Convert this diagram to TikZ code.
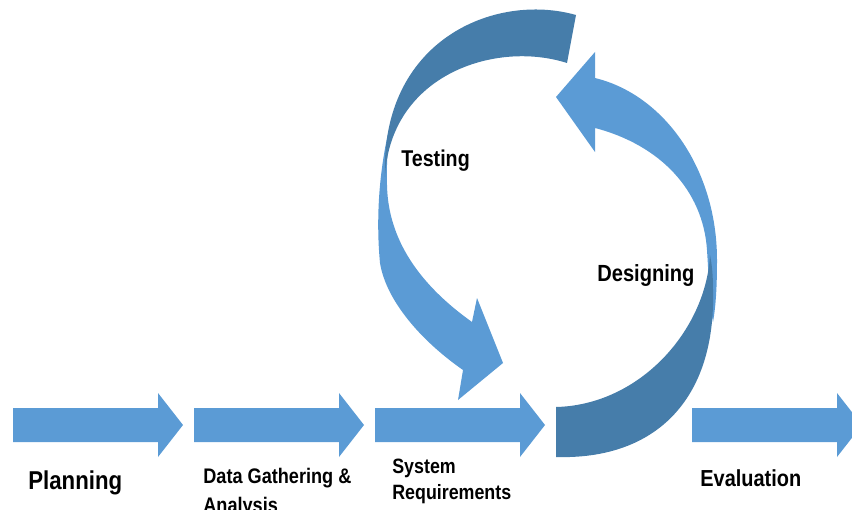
\documentclass[tikz,border=0pt]{standalone}
\usepackage{fontspec}
\setmainfont{Liberation Sans}[FakeStretch=0.86]
\usepackage{tikz}
\definecolor{flowblue}{RGB}{91,155,213}
\definecolor{backblue}{RGB}{70,125,170}
\tikzstyle{flow} = [fill=flowblue]
\tikzstyle{back} = [fill=backblue]
\tikzstyle{stage} = [inner sep=0pt, anchor=base west]

\begin{document}
\begin{tikzpicture}[x=0.02cm, y=-0.02cm]
\useasboundingbox (0,0) rectangle (852,510);
% straight arrows
\foreach \x/\n in {13/plan, 194/data, 375/sysreq, 692/eval}
  \fill[flow] (\x,408) coordinate (\n) -- ++(145,0) -- ++(0,-15) -- ++(25,32) -- ++(-25,32) -- ++(0,-15) -- ++(-145,0) -- cycle;
% designing arrow
\fill[flow] (556,97) -- (595,52) -- (595,78) .. controls (665,95) and (717,170) .. (717,260) .. controls (717,285) and (716,305) .. (713,322)
  .. controls (709,300) and (709,280) .. (707,250) .. controls (703,190) and (660,145) .. (595,128) -- (595,152) -- cycle;
\fill[back] (556,457) .. controls (655,460) and (716,400) .. (713,290) .. controls (713,275) and (712,265) .. (710,255)
  .. controls (706,330) and (640,405) .. (556,407) -- cycle;
% testing arrow
\fill[flow] (396,105) .. controls (384,140) and (374,200) .. (380,263) .. controls (386,300) and (420,340) .. (463,370)
  -- (458,400) -- (503,363) -- (477,298) -- (472,322) .. controls (420,285) and (388,240) .. (387,185)
  .. controls (386,150) and (390,125) .. (396,105) -- cycle;
\fill[back] (576,15) .. controls (495,-8) and (380,40) .. (385,177) .. controls (390,75) and (495,40) .. (567,63) -- cycle;
% labels
\node (planning) [stage, font=\bfseries\fontsize{14.7}{17}\selectfont] at (28,489) {Planning};
\node (gathering) [stage, font=\bfseries\fontsize{12}{17}\selectfont] at (203,483) {\begin{tabular}[t]{@{}l@{}}Data Gathering \&\\Analysis\end{tabular}};
\node (requirements) [stage, font=\bfseries\fontsize{11.8}{15.1}\selectfont] at (392,473) {\begin{tabular}[t]{@{}l@{}}System\\Requirements\end{tabular}};
\node (evaluation) [stage, font=\bfseries\fontsize{13.2}{15}\selectfont] at (700,486) {Evaluation};
\node (testing) [stage, font=\bfseries\fontsize{13}{15}\selectfont] at (401,167) {Testing};
\node (designing) [stage, font=\bfseries\fontsize{13.3}{15}\selectfont] at (597,281) {Designing};
\end{tikzpicture}
\end{document}
